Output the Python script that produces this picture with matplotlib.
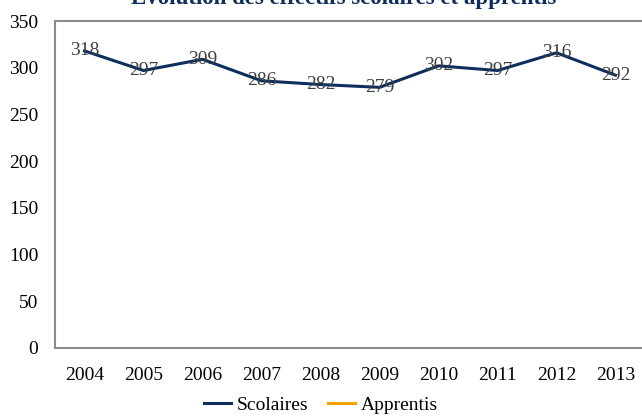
import matplotlib
matplotlib.use("Agg")
from matplotlib import pyplot as plt

# Data
years = ['2004', '2005', '2006', '2007', '2008', '2009', '2010', '2011', '2012', '2013']
scolaires = [318, 297, 309, 286, 282, 279, 302, 297, 316, 292]
apprentis = []

plt.rcParams['font.family'] = ['Liberation Serif', 'DejaVu Serif']

fig = plt.figure(figsize=(6.42, 4.16), dpi=100)
ax = fig.add_axes([0.0857, 0.1635, 0.919, 0.786])

x = list(range(len(years)))
ax.plot(x, scolaires, color='#0E2F5E', linewidth=2.2, label='Scolaires', zorder=3)
ax.plot(x[:len(apprentis)], apprentis, color='#F4A300', linewidth=2.2, label='Apprentis')

# Value labels centred on the points
for xi, v in zip(x, scolaires):
    ax.text(xi, v, str(v), ha='center', va='center', fontsize=14, color='#404040', zorder=4)

ax.set_xlim(-0.5, len(years) - 0.5)
ax.set_ylim(0, 350)
ax.set_yticks(range(0, 351, 50))
ax.set_xticks(x)
ax.set_xticklabels(years)
ax.tick_params(length=0, labelsize=14, colors='#000000')
ax.tick_params(axis='y', pad=12)
ax.tick_params(axis='x', pad=14)

for s in ax.spines.values():
    s.set_color('#8C8C8C')
    s.set_linewidth(1.5)

fig.text(0.535, 1.003, 'Evolution des effectifs scolaires et apprentis', ha='center', va='center',
         fontsize=16.5, fontweight='bold', color='#0E2F5E')

fig.legend(loc='center', bbox_to_anchor=(0.5, 0.027), ncol=2, frameon=False, fontsize=14,
           handlelength=1.4, handletextpad=0.3, columnspacing=1.0)

fig.savefig('out.png', dpi=100)
